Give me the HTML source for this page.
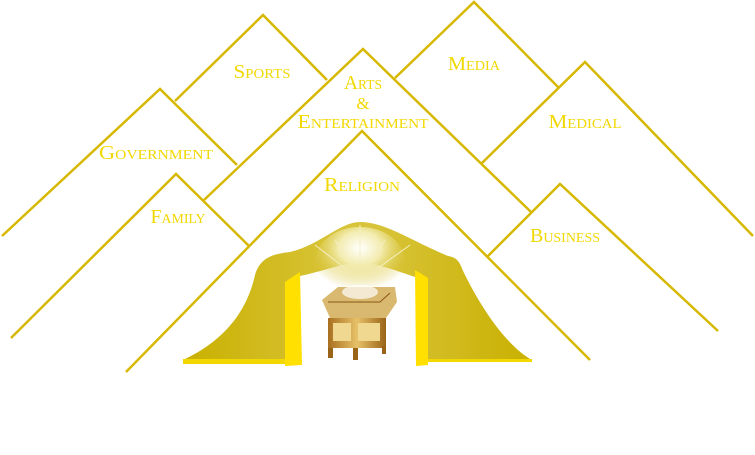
<!DOCTYPE html>
<html><head><meta charset="utf-8"><style>
html,body{margin:0;padding:0;background:#fff;width:755px;height:455px;overflow:hidden}
svg{display:block;overflow:hidden}
text{font-family:"Liberation Serif",serif;fill:#f2d800;font-variant:small-caps;font-size:20px;text-anchor:middle}
</style></head><body>
<svg width="755" height="455" viewBox="0 0 755 455">
<defs>
<linearGradient id="tent" x1="0" x2="1" y1="0" y2="0">
<stop offset="0" stop-color="#c9b000"/><stop offset="0.45" stop-color="#d8c43a"/><stop offset="0.55" stop-color="#d8c43a"/><stop offset="1" stop-color="#c9b000"/>
</linearGradient>
<radialGradient id="glow" cx="0.5" cy="0.3" r="0.6">
<stop offset="0" stop-color="#fff"/><stop offset="0.4" stop-color="#f3ecb0"/><stop offset="1" stop-color="#d6c02a" stop-opacity="0"/>
</radialGradient>
<linearGradient id="ark" x1="0" x2="1"><stop offset="0" stop-color="#a86f20"/><stop offset="0.5" stop-color="#e7c168"/><stop offset="1" stop-color="#9a6418"/></linearGradient>
</defs>
<g stroke="#d6b800" stroke-width="2.5" fill="none">
<polygon points="175,101 263,15 327,80 327,455 175,455" fill="#fff" stroke="none"/>
<polyline points="175,101 263,15 327,80"/>
<polygon points="395,78 474,2 558,87 558,455 395,455" fill="#fff" stroke="none"/>
<polyline points="395,78 474,2 558,87"/>
<polygon points="2,236 160,89 237,165 237,455 2,455" fill="#fff" stroke="none"/>
<polyline points="2,236 160,89 237,165"/>
<polygon points="482,163 585,62 753,236 753,455 482,455" fill="#fff" stroke="none"/>
<polyline points="482,163 585,62 753,236"/>
<polygon points="204,200 363,49 531,212 531,455 204,455" fill="#fff" stroke="none"/>
<polyline points="204,200 363,49 531,212"/>
<polygon points="488,256 560,184 718,331 718,455 488,455" fill="#fff" stroke="none"/>
<polyline points="488,256 560,184 718,331"/>
<polygon points="11,338 176,174 249,246 249,455 11,455" fill="#fff" stroke="none"/>
<polyline points="11,338 176,174 249,246"/>
<polygon points="126,372 362,131 590,360 590,455 126,455" fill="#fff" stroke="none"/>
<polyline points="126,372 362,131 590,360"/>
</g>
<text x="262" y="78" textLength="57" lengthAdjust="spacingAndGlyphs">Sports</text>
<text x="474" y="70" textLength="52" lengthAdjust="spacingAndGlyphs">Media</text>
<text x="363" y="89" textLength="38" lengthAdjust="spacingAndGlyphs">Arts</text>
<text x="363" y="109" style="font-size:17px">&amp;</text>
<text x="363" y="128" textLength="131" lengthAdjust="spacingAndGlyphs">Entertainment</text>
<text x="156" y="159" textLength="114" lengthAdjust="spacingAndGlyphs">Government</text>
<text x="585" y="128" textLength="73" lengthAdjust="spacingAndGlyphs">Medical</text>
<text x="362" y="191" textLength="76" lengthAdjust="spacingAndGlyphs">Religion</text>
<text x="178" y="223" textLength="55" lengthAdjust="spacingAndGlyphs">Family</text>
<text x="565" y="242" textLength="70" lengthAdjust="spacingAndGlyphs">Business</text>
<path d="M183,360 C215,345 245,320 255,275 C260,258 272,254 290,252 C320,245 340,222 360,222 C385,222 410,240 448,256 C460,258 460,265 465,275 C480,305 505,345 532,360 Z" fill="url(#tent)"/>
<path d="M300,276 C320,272 340,264 360,262 C380,264 400,272 418,278 L418,362 L300,362 Z" fill="#fff"/>
<ellipse cx="360" cy="262" rx="45" ry="35" fill="url(#glow)"/>
<g stroke="#f5efc0" stroke-width="1">
<line x1="360" y1="262" x2="360" y2="225"/><line x1="350" y1="262" x2="335" y2="240"/><line x1="370" y1="262" x2="385" y2="240"/>
<line x1="345" y1="268" x2="315" y2="245"/><line x1="378" y1="268" x2="410" y2="245"/>
</g>
<path d="M183,359 L300,359 L300,364 L183,364 Z" fill="#f2d800"/>
<path d="M420,359 L532,359 L532,362 L420,362 Z" fill="#f2d800"/>
<path d="M285,282 L300,272 L302,365 L285,366 Z" fill="#ffe000"/>
<path d="M415,270 L428,278 L428,365 L416,366 Z" fill="#ffe000"/>
<path d="M322,300 L338,287 L395,287 L397,302 L386,318 L330,318 Z" fill="#d9b870"/>
<path d="M328,302 L380,302 L390,293" stroke="#8a5a10" fill="none" stroke-width="1"/>
<rect x="328" y="318" width="58" height="30" fill="url(#ark)"/>
<rect x="333" y="323" width="18" height="18" fill="#f0d890"/>
<rect x="358" y="323" width="22" height="18" fill="#f0d890"/>
<rect x="328" y="348" width="5" height="10" fill="#9a6418"/>
<rect x="353" y="348" width="5" height="12" fill="#9a6418"/>
<rect x="382" y="346" width="4" height="8" fill="#9a6418"/>
<ellipse cx="360" cy="292" rx="18" ry="7" fill="#fff" opacity="0.7"/>
</svg>
</body></html>
